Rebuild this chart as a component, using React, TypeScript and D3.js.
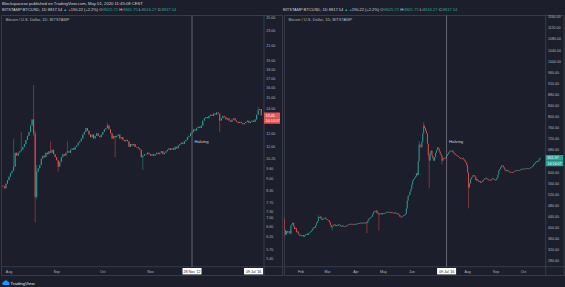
import React from "react";
import * as d3 from "d3";

// ---------- LEFT PANEL DATA: BITSTAMP BTCUSD 1D, 2012-07-28 .. 2013-01-12 ----------
const leftStart = "2012-07-28";
const leftFirstOpen = 8.6;
const leftCloses = [
  8.55, 8.45, 8.7, 8.9, 9.1, 9.3, 9.45, 9.7, 10.6, 10.4,
  10.6, 10.7, 10.8, 11.0, 11.2, 11.5, 11.8, 12.1, 12.6, 13.1,
  12.0, 8.0, 9.4, 9.6,
  9.8, 10.2, 10.4, 10.3, 10.6, 10.5, 10.7, 10.6, 10.8, 10.5,
  10.3, 10.1, 9.7, 10.0, 10.3, 10.5, 10.4, 10.6, 10.7, 10.6,
  10.8, 10.9, 10.8, 11.0, 11.1, 11.3, 11.4, 11.6, 11.9, 12.1,
  12.4, 12.2, 11.9, 11.7, 11.9, 11.6, 11.8, 12.0, 11.8, 11.7,
  11.9, 12.1, 12.3, 12.4, 12.6, 12.3, 12.0, 11.6, 11.8, 11.7,
  11.8, 11.9, 11.6, 11.7, 11.5, 11.4, 11.5, 11.4, 11.0, 11.2,
  11.1, 11.2, 11.0, 11.0, 10.9, 10.8, 10.3, 10.4, 10.5, 10.5,
  10.6, 10.5, 10.4, 10.5, 10.4, 10.5, 10.6, 10.5, 10.6, 10.7,
  10.5, 10.6, 10.7, 10.8, 10.9, 10.8, 10.9, 10.8, 11.0, 10.9,
  11.1, 11.2, 11.3, 11.2, 11.4, 11.5, 11.7, 11.8, 12.0, 12.1,
  12.3, 12.2, 12.4, 12.5, 12.4, 12.6, 13.0, 13.2, 13.3, 13.2,
  13.4, 13.5, 13.4, 13.6, 13.5, 13.7, 13.6, 13.0, 13.2, 13.4,
  13.3, 13.1, 13.2, 13.0, 12.9, 13.1, 13.2, 13.0, 12.9, 12.8,
  12.9, 12.8, 12.7, 12.8, 12.9, 13.0, 12.8, 12.9, 13.0, 12.9,
  13.1, 13.5, 13.9, 14.0, 13.45,
];
// [candle index, high, low] for the visible wicks
const leftWicks: [number, number | null, number | null][] = [
  [7, 11.6, null], [12, 12.1, null], [20, 16.3, 11.8], [21, 12.2, 6.8], [22, 9.8, 7.9],
  [31, 11.4, null], [36, null, 9.4], [42, 11.4, null], [68, 12.8, null], [73, null, 10.3],
  [91, null, 9.5], [141, null, 12.1], [166, 14.2, null],
];
const leftTicks = [25, 23, 21, 19, 18, 17, 16, 15, 14, 12, 11, 10.2, 9.6, 9.0, 8.3, 7.7, 7.3, 7.0, 6.6, 6.2, 5.7, 5.4];
const leftMonths: [string, string][] = [
  ["2012-08-01", "Aug"], ["2012-09-01", "Sep"], ["2012-10-01", "Oct"], ["2012-11-01", "Nov"],
];
const leftHalving = "2012-11-28";
const leftHalvingLabel = "28 Nov '12";
const leftEndBoxDate = "2013-01-07";
const leftEndBoxLabel = "09 Jul '16";
const leftLastLabel = "13.45";

// ---------- RIGHT PANEL DATA: BITSTAMP BTCUSD 1D, 2016-01-14 .. 2016-10-19 ----------
const rightStart = "2016-01-14";
const rightFirstOpen = 432;
const rightCloses = [
  392, 375, 388, 382, 385, 388, 378, 408, 412, 418,
  405, 395, 398, 384, 386, 378, 374, 370,
  372, 370, 374, 368, 372, 376, 378, 374, 380, 382,
  385, 388, 392, 398, 402, 400, 408, 418, 424, 438,
  436, 440, 432, 428, 432, 434, 436, 432, 430, 428,
  426, 420, 410, 402, 404, 408, 412, 410, 406, 410,
  408, 412, 410, 406, 404, 408, 406, 404, 406, 405,
  408, 410, 412, 414, 412, 414, 412, 410, 412, 414,
  412, 414, 416, 414, 416, 418, 416, 418, 416, 418,
  416, 420, 418, 426, 432, 434, 438, 440, 448, 456,
  460, 458, 462, 452, 454, 448, 450, 452, 448, 452,
  450, 452, 454, 456, 458, 455, 456, 457, 453, 455,
  454, 452, 455, 452, 450, 452, 448, 446, 440, 438,
  440, 442, 445, 446, 450, 470, 498, 515, 518, 530,
  540, 555, 570, 575, 580, 585, 596, 590, 640, 700,
  695, 690, 710, 740, 768, 760, 750, 740, 703, 660,
  642, 670, 678, 660, 650, 642, 655, 670, 680, 689,
  685, 675, 667, 660, 642, 648, 652, 650, 653, 660,
  665, 671, 675, 678, 676, 678, 672, 668, 665, 662,
  660, 658, 655, 652, 649, 650, 652, 648, 645, 640,
  635, 625, 599, 545, 560, 575, 581, 585, 590, 588,
  584, 571, 575, 570, 566, 568, 563, 565, 568, 572,
  575, 578, 580, 576, 574, 571, 573, 571, 575, 578,
  576, 573, 571, 574, 580, 592, 606, 612, 618, 624,
  624, 618, 612, 606, 604, 608, 605, 602, 600, 599,
  600, 599, 602, 604, 606, 608, 605, 607, 606, 608,
  610, 612, 613, 611, 612, 614, 613, 615, 613, 613,
  615, 618, 620, 622, 628, 632, 636, 640, 638, 642, 646, 652,
];
const rightWicks: [number, number | null, number | null][] = [
  [0, 436, 366], [37, 445, null], [52, null, 390], [90, null, 380], [103, null, 390],
  [147, 712, null], [152, 780, null], [158, null, 542], [172, null, 628], [201, null, 470],
];
const rightTicks = [1160, 1120, 1080, 1040, 1000, 960, 920, 880, 840, 800, 760, 720, 680, 600, 560, 520, 480, 440, 400, 360, 320, 280];
const rightMonths: [string, string][] = [
  ["2016-02-01", "Feb"], ["2016-03-01", "Mar"], ["2016-04-01", "Apr"], ["2016-05-01", "May"],
  ["2016-06-01", "Jun"], ["2016-08-01", "Aug"], ["2016-09-01", "Sep"], ["2016-10-01", "Oct"],
];
const rightHalving = "2016-07-09";
const rightHalvingLabel = "09 Jul '16";
const rightLastLabel = "651.97";

const countdown = "14:14:07";
const publishLine = "Blockspaceoz published on TradingView.com, May 01, 2020 11:45:08 CEST";
const symbolText = "BITSTAMP:BTCUSD, 1D 8817.54";
const changeText = "+190.22 (+2.2%)";
const ohlc: [string, string][] = [["O:", "8625.72"], ["H:", "8841.75"], ["L:", "8616.27"], ["C:", "8817.54"]];
const panelTitle = "Bitcoin / U.S. Dollar, 1D, BITSTAMP";

// ---------- STYLE ----------
const FONT = "'Liberation Sans', Arial, sans-serif";
const BG = "#1c1f2b";
const LINE = "#4a4e5a";
const TXT = "#b2b5be";
const UP = "#26a69a";
const DOWN = "#ef5350";
const FS = 3.6;

const parse = (s: string) => new Date(s + "T00:00:00Z");

type PanelProps = {
  x0: number; x1: number; axisX: number;
  start: string; firstOpen: number; closes: number[];
  wicks: [number, number | null, number | null][];
  xDom: [string, string]; xRng: [number, number];
  y: (v: number) => number;
  ticks: number[];
  months: [string, string][];
  halving: string; halvingLabel: string;
  extraBox?: [string, string];
  lastLabel: string;
  bodyW: number;
  axisBoxW: number;
};

const TOP = 15.7, TIME_TOP = 266.7, BOTTOM = 275.7;

function Panel(p: PanelProps) {
  const xs = d3.scaleUtc().domain(p.xDom.map(parse)).range(p.xRng);
  const start = parse(p.start);
  const wm = new Map(p.wicks.map((w) => [w[0], w] as const));
  const clipId = "clip" + Math.round(p.x0);
  const hx = xs(parse(p.halving));
  const n = p.closes.length;
  const lastO = p.closes[n - 2];
  const lastC = p.closes[n - 1];
  const lastCol = lastC >= lastO ? UP : DOWN;
  const ly = p.y(lastC);
  const boxW = 19;
  return (
    <g>
      <defs>
        <clipPath id={clipId}>
          <rect x={p.x0} y={TOP} width={p.axisX - p.x0} height={TIME_TOP - TOP} />
        </clipPath>
      </defs>
      {/* frame */}
      <rect x={p.x0} y={TOP} width={p.x1 - p.x0} height={BOTTOM - TOP} fill="none" stroke={LINE} strokeWidth={0.6} />
      <line x1={p.axisX} x2={p.axisX} y1={TOP} y2={BOTTOM} stroke={LINE} strokeWidth={0.6} />
      <line x1={p.x0} x2={p.x1} y1={TIME_TOP} y2={TIME_TOP} stroke={LINE} strokeWidth={0.6} />
      <text x={p.x0 + 4} y={20.6} fill={TXT} fontSize={4.0} fontFamily={FONT}>{panelTitle}</text>
      {/* candles */}
      <g clipPath={`url(#${clipId})`}>
        {p.closes.map((c, i) => {
          const o = i === 0 ? p.firstOpen : p.closes[i - 1];
          const w = wm.get(i);
          const hi = Math.max(o, c, w && w[1] != null ? w[1] : -Infinity);
          const lo = Math.min(o, c, w && w[2] != null ? w[2] : Infinity);
          const col = c >= o ? UP : DOWN;
          const x = xs(d3.utcDay.offset(start, i));
          const yt = p.y(Math.max(o, c));
          const yb = p.y(Math.min(o, c));
          return (
            <g key={i}>
              <line x1={x} x2={x} y1={p.y(hi)} y2={p.y(lo)} stroke={col} strokeWidth={0.45} />
              <rect x={x - p.bodyW / 2} y={yt} width={p.bodyW} height={Math.max(yb - yt, 0.7)} fill={col} />
            </g>
          );
        })}
      </g>
      {/* halving line */}
      <line x1={hx} x2={hx} y1={TOP} y2={TIME_TOP} stroke="#9598a1" strokeWidth={0.6} />
      <text x={hx + 2.5} y={142.6} fill="#d1d4dc" fontSize={4.2} fontFamily={FONT}>Halving</text>
      {/* price labels */}
      {p.ticks.map((t) => (
        <text key={t} x={p.axisX + 2.2} y={p.y(t) + 1.3} fill={TXT} fontSize={FS} fontFamily={FONT}>{t.toFixed(2)}</text>
      ))}
      <rect x={p.axisX} y={ly - 2.8} width={p.axisBoxW} height={5.6} fill={lastCol} />
      <text x={p.axisX + 1.8} y={ly + 1.3} fill="#fff" fontSize={FS} fontFamily={FONT}>{p.lastLabel}</text>
      <rect x={p.axisX} y={ly + 2.8} width={p.axisBoxW} height={5.6} fill={lastCol} />
      <text x={p.axisX + 1.8} y={ly + 6.9} fill="#fff" fontSize={FS} fontFamily={FONT}>{countdown}</text>
      {/* time labels */}
      {p.months.map(([d, lab]) => (
        <text key={d} x={xs(parse(d))} y={272.8} textAnchor="middle" fill={TXT} fontSize={FS} fontFamily={FONT}>{lab}</text>
      ))}
      <rect x={hx - boxW / 2} y={268} width={boxW} height={6.4} fill="#ffffff" />
      <text x={hx} y={272.6} textAnchor="middle" fill="#131722" fontSize={FS} fontFamily={FONT}>{p.halvingLabel}</text>
      {p.extraBox && (() => {
        const ex = xs(parse(p.extraBox[0]));
        return (
          <g>
            <rect x={ex - boxW / 2} y={268} width={boxW} height={6.4} fill="#ffffff" />
            <text x={ex} y={272.6} textAnchor="middle" fill="#131722" fontSize={FS} fontFamily={FONT}>{p.extraBox[1]}</text>
          </g>
        );
      })()}
    </g>
  );
}

function Header({ x, y }: { x: number; y: number }) {
  return (
    <text x={x} y={y} fontSize={4.0} fontFamily={FONT} fill="#d1d4dc">
      <tspan>{symbolText} </tspan>
      <tspan fill={UP}>▲</tspan>
      <tspan> {changeText} </tspan>
      {ohlc.map(([k, v]) => (
        <tspan key={k}>{k}<tspan fill={UP}>{v} </tspan></tspan>
      ))}
    </text>
  );
}

export default function App() {
  // left: log price scale, right: linear price scale
  const yLeft = d3.scaleLog().domain([5.13, 25.36]).range([TIME_TOP, TOP]);
  const yRight = d3.scaleLinear().domain([280, 1160]).range([261, 17]);
  return (
    <svg width={565} height={287} style={{ position: "absolute", left: 0, top: 0, display: "block" }}>
      <rect width={565} height={287} fill={BG} />
      <text x={2} y={5} fontSize={4.2} fontFamily={FONT} fill="#d1d4dc">{publishLine}</text>
      <Header x={2} y={10.6} />
      <Header x={283} y={10.6} />
      <Panel
        x0={1.7} x1={282.7} axisX={264}
        start={leftStart} firstOpen={leftFirstOpen} closes={leftCloses} wicks={leftWicks}
        xDom={["2012-08-01", "2012-11-01"]} xRng={[9, 150.5]}
        y={yLeft} ticks={leftTicks} months={leftMonths}
        halving={leftHalving} halvingLabel={leftHalvingLabel}
        extraBox={[leftEndBoxDate, leftEndBoxLabel]}
        lastLabel={leftLastLabel} bodyW={1.0} axisBoxW={16}
      />
      <Panel
        x0={284.5} x1={564} axisX={545.7}
        start={rightStart} firstOpen={rightFirstOpen} closes={rightCloses} wicks={rightWicks}
        xDom={["2016-02-01", "2016-10-01"]} xRng={[301, 523.5]}
        y={yRight} ticks={rightTicks} months={rightMonths}
        halving={rightHalving} halvingLabel={rightHalvingLabel}
        lastLabel={rightLastLabel} bodyW={0.75} axisBoxW={17.5}
      />
      {/* TradingView logo */}
      <g>
        <path d="M3,285 a1.6,1.6 0 0 1 0.6,-3 a2.2,2.2 0 0 1 4,-0.6 a1.5,1.5 0 0 1 1.6,1.9 a1,1 0 0 1 -0.3,1.7 z" fill="#2196f3" />
        <text x={10.5} y={284.6} fontSize={4.4} fontFamily={FONT} fill="#e0e3eb">TradingView</text>
      </g>
    </svg>
  );
}
